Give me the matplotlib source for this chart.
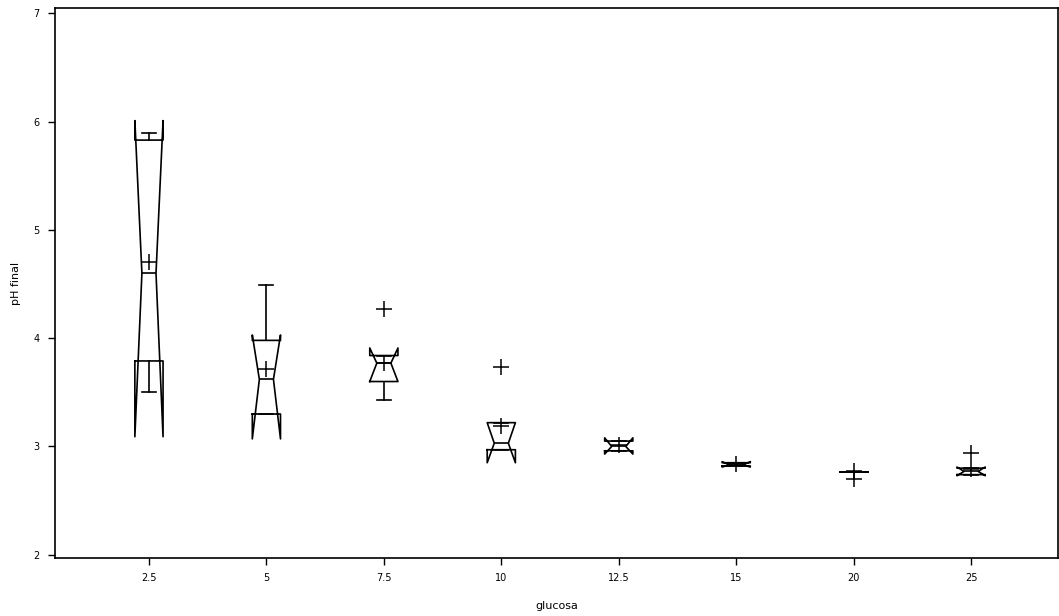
import matplotlib
matplotlib.use("Agg")
import matplotlib.pyplot as plt

# glucose levels (categories) and per-group box statistics of final pH
glucose = ["2.5", "5", "7.5", "10", "12.5", "15", "20", "25"]
whislo = [3.50, 3.30, 3.43, 2.97, 2.96, 2.82, 2.76, 2.74]
q1 = [3.79, 3.30, 3.60, 2.97, 2.96, 2.82, 2.76, 2.74]
median = [4.60, 3.62, 3.77, 3.03, 3.00, 2.83, 2.76, 2.77]
q3 = [5.83, 3.98, 3.84, 3.22, 3.05, 2.85, 2.76, 2.80]
whishi = [5.90, 4.49, 3.84, 3.22, 3.05, 2.85, 2.76, 2.80]
notch_lo = [3.09, 3.07, 3.60, 2.85, 2.93, 2.81, 2.76, 2.73]
notch_hi = [6.01, 4.03, 3.91, 3.22, 3.08, 2.86, 2.76, 2.81]
mean = [4.70, 3.72, 3.77, 3.19, 3.01, 2.84, 2.77, 2.79]
outliers = [[], [], [4.27], [3.73], [], [], [2.70], [2.94]]

stats = []
for i, name in enumerate(glucose):
    stats.append(dict(label=name, whislo=whislo[i], q1=q1[i], med=median[i],
                      q3=q3[i], whishi=whishi[i], cilo=notch_lo[i],
                      cihi=notch_hi[i], mean=mean[i], fliers=outliers[i]))

fig = plt.figure(figsize=(10.59, 6.16), dpi=100)
ax = fig.add_axes([55 / 1059, 1 - 558 / 616, 1003 / 1059, 550 / 616])

positions = list(range(1, len(glucose) + 1))
line = dict(color="black", linewidth=1.2)
ax.bxp(stats, positions=positions, widths=0.24, shownotches=True, showmeans=True,
       boxprops=line, whiskerprops=line, capprops=line, medianprops=line,
       meanprops=dict(marker="+", markeredgecolor="black", markersize=11,
                      markeredgewidth=1.1, linestyle="none"),
       flierprops=dict(marker="+", markeredgecolor="black", markersize=11,
                       markeredgewidth=1.1, linestyle="none"),
       manage_ticks=False)

ax.set_xlim(0.2, 8.74)
ax.set_ylim(1.97, 7.05)
ax.set_xticks(positions)
ax.set_xticklabels(glucose)
ax.set_yticks([2, 3, 4, 5, 6, 7])
ax.tick_params(direction="out", length=5, width=1, labelsize=7, pad=6,
               top=False, right=False)
for s in ax.spines.values():
    s.set_linewidth(1.2)

ax.set_xlabel("glucosa", fontsize=8, labelpad=13)
ax.set_ylabel("pH final", fontsize=8, labelpad=9)

fig.savefig("out.png", dpi=100)
